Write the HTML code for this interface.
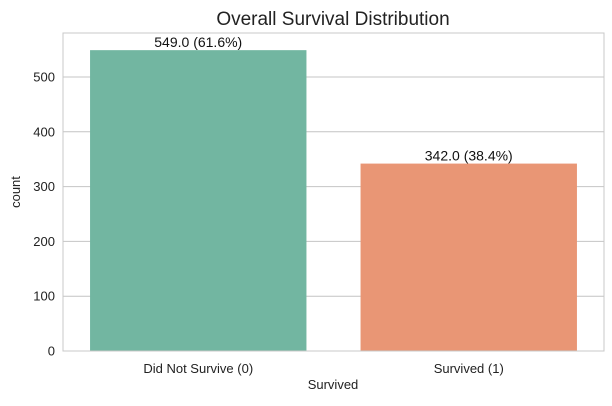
<!DOCTYPE html>
<html><head><meta charset="utf-8"><style>
body{margin:0;background:#fff;font-family:"Liberation Sans",Arial,sans-serif}
</style></head><body>
<svg width="612" height="401" xmlns="http://www.w3.org/2000/svg">
<text x="333" y="25" text-anchor="middle" font-size="19" fill="#222">Overall Survival Distribution</text>
<g id="grid"></g>
<g id="bars"></g>
<rect x="63" y="33" width="541" height="318" fill="none" stroke="#c8c8c8" stroke-width="1"/>
<g id="yticks"></g>
<g id="xticks"></g>
<text x="333" y="389" text-anchor="middle" font-size="13" fill="#222">Survived</text>
<text transform="translate(20,192) rotate(-90)" text-anchor="middle" font-size="13" fill="#222">count</text>
</svg>
<script>
const categories=["Did Not Survive (0)","Survived (1)"];
const counts=[549,342];
const barLabels=["549.0 (61.6%)","342.0 (38.4%)"];
const colors=["#72b6a1","#e99675"];
const yTicks=[0,100,200,300,400,500];
const L=63,R=604,T=33,B=351,yMax=580.3;
const y=v=>B-(v/yMax)*(B-T);
const band=(R-L)/categories.length;
const xc=i=>L+band*(i+0.5);
const NS="http://www.w3.org/2000/svg";
function mk(t,a,p){const e=document.createElementNS(NS,t);for(const k in a)e.setAttribute(k,a[k]);document.getElementById(p).appendChild(e);return e;}
yTicks.forEach(v=>{
 const g=mk("line",{x1:L,x2:R,y1:y(v),y2:y(v),stroke:"#c4c4c4","stroke-width":1},"grid");
 
 
 const t=mk("text",{x:L-8,y:y(v)+4.5,"text-anchor":"end","font-size":13,fill:"#222"},"yticks");
 t.textContent=v;
 
 
});
categories.forEach((c,i)=>{
 const w=band*0.8;
 const r=mk("rect",{x:xc(i)-w/2,y:y(counts[i]),width:w,height:B-y(counts[i]),fill:colors[i]},"bars");
 
 
 const lb=mk("text",{x:xc(i),y:y(counts[i])-3,"text-anchor":"middle","font-size":14,fill:"#111"},"bars");
 lb.textContent=barLabels[i];
 
 
 const t=mk("text",{x:xc(i),y:B+22,"text-anchor":"middle","font-size":13,fill:"#222"},"xticks");
 t.textContent=c;
 
 
});
</script>
</body></html>
